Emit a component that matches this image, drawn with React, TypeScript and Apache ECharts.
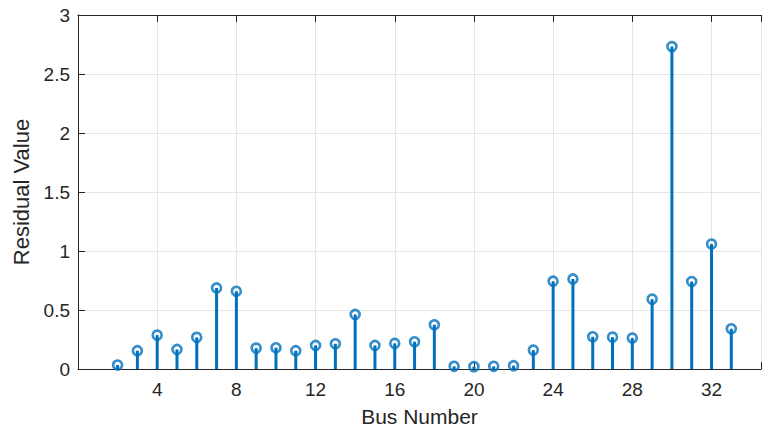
import React, { useEffect, useRef } from "react";
import * as echarts from "echarts";

const busNumbers = [2, 3, 4, 5, 6, 7, 8, 9, 10, 11, 12, 13, 14, 15, 16, 17, 18, 19, 20, 21, 22, 23, 24, 25, 26, 27, 28, 29, 30, 31, 32, 33];
const residuals = [0.034, 0.155, 0.287, 0.166, 0.268, 0.687, 0.659, 0.177, 0.18, 0.155, 0.2, 0.214, 0.462, 0.2, 0.217, 0.231, 0.375, 0.023, 0.02, 0.023, 0.028, 0.16, 0.744, 0.763, 0.273, 0.27, 0.262, 0.592, 2.732, 0.741, 1.059, 0.341];

const COLOR = "#0072BD";
const TEXT = "#262626";
const FONT = "Liberation Sans, Arial, Helvetica, sans-serif";

export default function App() {
  const ref = useRef<HTMLDivElement>(null);
  useEffect(() => {
    if (!ref.current) return;
    const chart = echarts.init(ref.current, undefined, { renderer: "svg" });
    const data = busNumbers.map((b, i) => [b, residuals[i]]);
    const axisCommon = {
      type: "value" as const,
      min: 0,
      max: 34.5,
      interval: 4,
      axisLine: { show: true, lineStyle: { color: TEXT, width: 1 } },
      axisTick: { show: true, inside: true, length: 7, lineStyle: { color: TEXT, width: 1 } },
    };
    chart.setOption({
      animation: false,
      backgroundColor: "#ffffff",
      textStyle: { fontFamily: FONT },
      grid: { left: 78, right: 0, top: 15, bottom: 62, containLabel: false },
      xAxis: [
        {
          ...axisCommon,
          position: "bottom",
          name: "Bus Number",
          nameLocation: "middle",
          nameGap: 37,
          nameTextStyle: { color: TEXT, fontSize: 21, fontFamily: FONT },
          axisLabel: {
            color: TEXT,
            fontSize: 19,
            fontFamily: FONT,
            margin: 11,
            formatter: (v: number) => (v > 0 && v <= 32 ? String(v) : ""),
          },
          splitLine: { show: true, lineStyle: { color: "#e6e6e6", width: 1 } },
        },
        {
          ...axisCommon,
          position: "top",
          axisLabel: { show: false },
          splitLine: { show: false },
        },
      ],
      yAxis: {
        type: "value",
        min: 0,
        max: 3,
        interval: 0.5,
        name: "Residual Value",
        nameLocation: "middle",
        nameGap: 43,
        nameTextStyle: { color: TEXT, fontSize: 22, fontFamily: FONT },
        axisLine: { show: true, lineStyle: { color: TEXT, width: 1 } },
        axisTick: { show: true, inside: true, length: 7, lineStyle: { color: TEXT, width: 1 } },
        axisLabel: { color: TEXT, fontSize: 19, fontFamily: FONT, margin: 8 },
        splitLine: { show: true, lineStyle: { color: "#e6e6e6", width: 1 } },
      },
      series: [
        {
          type: "custom",
          data,
          xAxisIndex: 0,
          renderItem: (params: any, api: any) => {
            const x = api.value(0);
            const y = api.value(1);
            const p0 = api.coord([x, 0]);
            const p1 = api.coord([x, y]);
            return {
              type: "line",
              shape: { x1: p0[0], y1: p0[1], x2: p1[0], y2: p1[1] },
              style: { stroke: COLOR, lineWidth: 3 },
            };
          },
          z: 2,
        },
        {
          type: "scatter",
          data,
          xAxisIndex: 0,
          symbol: "circle",
          symbolSize: 9,
          itemStyle: { color: "rgba(0,0,0,0)", borderColor: COLOR, borderWidth: 2.6 },
          z: 3,
        },
      ],
    });
    return () => chart.dispose();
  }, []);
  return <div ref={ref} style={{ width: 764, height: 432, position: "absolute", left: 0, top: 0 }} />;
}
